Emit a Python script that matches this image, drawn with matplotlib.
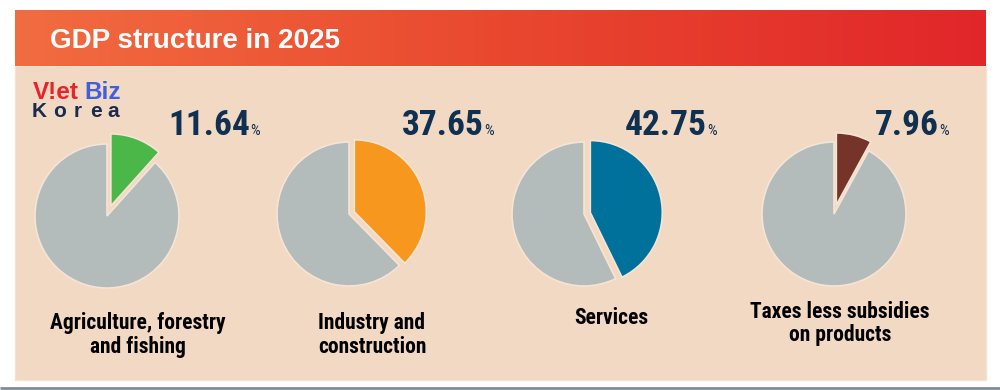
import matplotlib
matplotlib.use("Agg")
import matplotlib.pyplot as plt
import numpy as np
from matplotlib.patches import Rectangle
from matplotlib.colors import LinearSegmentedColormap

# ---- data ----
title = "GDP structure in 2025"
categories = ["Agriculture, forestry\nand fishing", "Industry and\nconstruction",
              "Services", "Taxes less subsidies\non products"]
shares = [11.64, 37.65, 42.75, 7.96]
share_labels = ["11.64", "37.65", "42.75", "7.96"]
colors = ["#4AB748", "#F7971E", "#00719B", "#74342A"]
rest_color = "#B3BCBB"
explodes = [0.15, 0.08, 0.09, 0.13]

narrow = ["Roboto Condensed", "Archivo Narrow", "DejaVu Sans"]
wide = ["Liberation Sans", "DejaVu Sans"]

W, H = 1000, 390
fig = plt.figure(figsize=(W / 100, H / 100), dpi=100)
fig.patch.set_facecolor("white")

bg = fig.add_axes([0, 0, 1, 1])
bg.axis("off")

panel_color = "#F2D9C3"
bg.add_patch(Rectangle((15, 66), 971, 314, facecolor=panel_color, edgecolor="#F4E2D2", lw=1, zorder=1))
cmap = LinearSegmentedColormap.from_list("hdr", ["#F26C41", "#E9482F", "#E1262A"])
grad = np.linspace(0, 1, 256).reshape(1, -1)
bg.imshow(grad, cmap=cmap, extent=(15, 986, 66, 10), aspect="auto", zorder=2)
bg.set_xlim(0, W)
bg.set_ylim(H, 0)
bg.plot([0, W], [388, 388], color="#7F8C99", lw=2, solid_capstyle="butt", zorder=2)

bg.text(50, 48, title, fontsize=20, fontweight="bold", color="white",
        family=wide, ha="left", va="baseline", zorder=3)

# logo
bg.text(33, 99, "V!et", fontsize=17.5, fontweight="bold", color="#E8232A",
        family=wide, ha="left", va="baseline", zorder=3)
bg.text(84, 99, "Biz", fontsize=17.5, fontweight="bold", color="#3F5FE0",
        family=wide, ha="left", va="baseline", zorder=3)
for ch, x in zip("Korea", [39, 60, 78, 96, 113]):
    bg.text(x, 117, ch, fontsize=15, fontweight="bold", color="#1B2A4E",
            family=wide, ha="center", va="baseline", zorder=3)

# pies
centers = [(107, 216), (349, 214), (584, 214), (834, 214)]
R = 72
L = 1.35
digit_right = [250, 484, 707, 939]
label_y = [(323, 347), (323, 347), (318,), (312, 335)]
label_x = [138, 372, 611, 840]

for i in range(4):
    cx, cy = centers[i]
    half = R * L
    ax = fig.add_axes([(cx - half) / W, 1 - (cy + half) / H, 2 * half / W, 2 * half / H])
    ax.axis("off")
    ax.pie([shares[i], 100 - shares[i]], colors=[colors[i], rest_color],
           startangle=90, counterclock=False, explode=[explodes[i], 0], radius=1,
           wedgeprops=dict(edgecolor="#F6E4D4", linewidth=1.2), frame=False)
    ax.set_xlim(-L, L)
    ax.set_ylim(-L, L)

    bg.text(digit_right[i], 135, share_labels[i], fontsize=25.5, fontweight="bold",
            color="#0F3050", family=narrow, ha="right", va="baseline", zorder=3)
    bg.text(digit_right[i] + 0.5, 135, "%", fontsize=11, color="#0F3050",
            family=narrow, ha="left", va="baseline", zorder=3)

    lines = categories[i].split("\n")
    for j, line in enumerate(lines):
        bg.text(label_x[i], label_y[i][j], line, fontsize=15.5, fontweight="bold",
                color="black", family=narrow, ha="center", va="center", zorder=3)

fig.savefig("out.png", dpi=100, facecolor=fig.get_facecolor())
